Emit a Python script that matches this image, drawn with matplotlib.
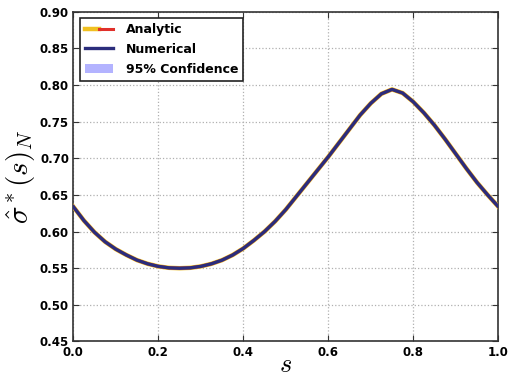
import matplotlib
matplotlib.use("Agg")
import matplotlib.pyplot as plt
import numpy as np
from matplotlib.legend_handler import HandlerTuple
import matplotlib.patches as mpatches

# ---- data ----
s_values = [0.000, 0.025, 0.050, 0.075, 0.100, 0.125, 0.150, 0.175, 0.200, 0.225,
            0.250, 0.275, 0.300, 0.325, 0.350, 0.375, 0.400, 0.425, 0.450, 0.475,
            0.500, 0.525, 0.550, 0.575, 0.600, 0.625, 0.650, 0.675, 0.700, 0.725,
            0.750, 0.775, 0.800, 0.825, 0.850, 0.875, 0.900, 0.925, 0.950, 0.975,
            1.000]
numerical = [0.634, 0.615, 0.599, 0.586, 0.576, 0.568, 0.561, 0.556, 0.5525, 0.5505,
             0.550, 0.5505, 0.5525, 0.556, 0.561, 0.568, 0.577, 0.588, 0.600, 0.614,
             0.630, 0.648, 0.666, 0.684, 0.702, 0.721, 0.740, 0.759, 0.775, 0.788,
             0.794, 0.789, 0.777, 0.762, 0.745, 0.726, 0.706, 0.686, 0.667, 0.650,
             0.634]
analytic = [0.634, 0.615, 0.599, 0.586, 0.576, 0.568, 0.561, 0.556, 0.5525, 0.5505,
            0.550, 0.5505, 0.5525, 0.556, 0.561, 0.568, 0.577, 0.588, 0.600, 0.614,
            0.630, 0.648, 0.666, 0.684, 0.702, 0.721, 0.740, 0.759, 0.775, 0.788,
            0.794, 0.789, 0.777, 0.762, 0.745, 0.726, 0.706, 0.686, 0.667, 0.650,
            0.634]
ci_half_width = 0.002
x_ticks = [0.0, 0.2, 0.4, 0.6, 0.8, 1.0]
y_ticks = [0.45, 0.50, 0.55, 0.60, 0.65, 0.70, 0.75, 0.80, 0.85, 0.90]
legend_labels = ["Analytic", "Numerical", "95% Confidence"]

plt.rcParams["mathtext.fontset"] = "cm"

fig = plt.figure(figsize=(5.10, 3.78), dpi=100)
ax = fig.add_axes([0.1437, 0.0966, 0.8333, 0.8724])

s = np.array(s_values)
num = np.array(numerical)
ana = np.array(analytic)

ax.fill_between(s, num - ci_half_width, num + ci_half_width,
                color="#8080ff", alpha=0.5, linewidth=0, zorder=2)
l_ana, = ax.plot(s, ana, color="#f0c020", lw=3.2, zorder=3,
                 solid_joinstyle="round")
l_ana2, = ax.plot(s, ana, color="#e0302a", lw=2.2, zorder=3,
                  solid_joinstyle="round")
l_num, = ax.plot(s, num, color="#2b2d7c", lw=2.4, zorder=4,
                 solid_joinstyle="round")

ax.set_xlim(0.0, 1.0)
ax.set_ylim(0.45, 0.90)
ax.set_xticks(x_ticks)
ax.set_yticks(y_ticks)
ax.set_xticklabels([f"{v:.1f}" for v in x_ticks], fontweight="bold", fontsize=8.5)
ax.set_yticklabels([f"{v:.2f}" for v in y_ticks], fontweight="bold", fontsize=8.5)
ax.tick_params(direction="in", length=4, width=0.8, color="#333333", pad=3)
ax.tick_params(top=True, right=True)
for sp in ax.spines.values():
    sp.set_color("#333333")
    sp.set_linewidth(1.2)

ax.grid(True, linestyle=":", color="#b0b0b0", linewidth=0.9)
ax.set_axisbelow(True)

ax.set_xlabel(r"$s$", fontsize=19, labelpad=-5)
ax.set_ylabel(r"$\hat{\sigma}^*(s)_N$", fontsize=21, labelpad=2)

patch = mpatches.Patch(facecolor="#a0a0ff", edgecolor="none", alpha=0.8)
leg = ax.legend([(l_ana, l_ana2), l_num, patch], legend_labels,
                handler_map={tuple: HandlerTuple(ndivide=None, pad=0)},
                loc="upper left", fancybox=False, framealpha=1,
                prop={"weight": "bold", "size": 9},
                handlelength=2.3, borderaxespad=0.5, labelspacing=0.55,
                handletextpad=1.0, borderpad=0.4)
leg.get_frame().set_edgecolor("#222222")
leg.get_frame().set_linewidth(1.2)

fig.savefig("out.png", dpi=100)
